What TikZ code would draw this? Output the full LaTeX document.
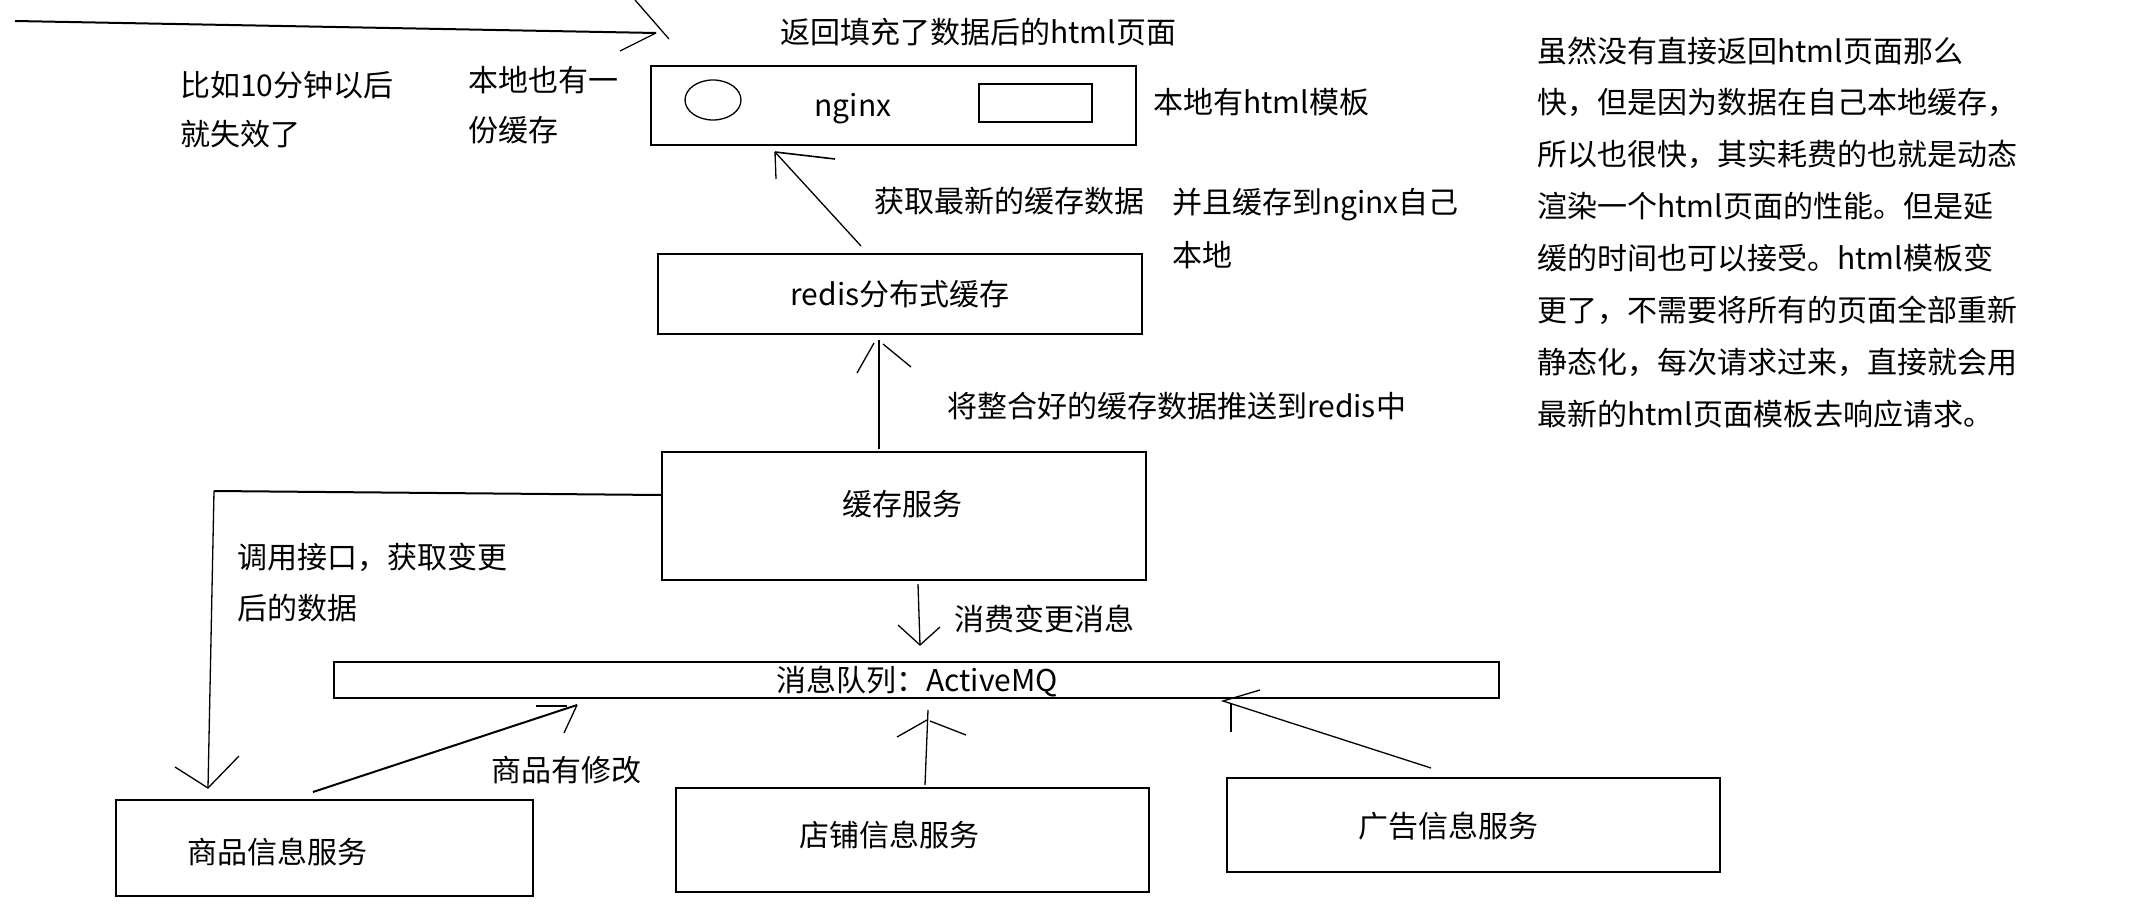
\documentclass[tikz,border=0pt]{standalone}
\usepackage{fontspec}
\newfontfamily\cjk{Noto Sans CJK SC}
\usetikzlibrary{shapes.geometric}
\begin{document}
\begin{tikzpicture}[x=1pt,y=-1pt,
  box/.style={draw, line width=2pt, inner sep=0pt},
  txt/.style={font=\cjk\fontsize{30}{36}\selectfont, inner sep=0pt, text height=24pt, text depth=3pt},
  ltxt/.style={txt, anchor=west},
  thinline/.style={line width=1.3pt},
  strongline/.style={line width=2pt}]
\fill[white] (0,0) rectangle (2152,912);
\useasboundingbox (0,0) rectangle (2152,912);

% boxes
\node[box, minimum width=485pt, minimum height=79pt] (nginx) at (893.5,105.5) {};
\node[box, minimum width=113pt, minimum height=38pt] (tpl) at (1035.5,103) {};
\node[draw, ellipse, thinline, inner sep=0pt, minimum width=56pt, minimum height=40pt] (circ) at (713,100) {};
\node[box, minimum width=484pt, minimum height=80pt] (redis) at (900,294) {};
\node[box, minimum width=484pt, minimum height=128pt] (cache) at (904,516) {};
\node[box, minimum width=1165pt, minimum height=36pt] (mq) at (916.5,680) {};
\node[box, minimum width=417pt, minimum height=96pt] (goods) at (324.5,848) {};
\node[box, minimum width=473pt, minimum height=104pt] (shop) at (912.5,840) {};
\node[box, minimum width=493pt, minimum height=94pt] (ad) at (1473.5,825) {};

% texts in boxes
\node[txt] (ngt) at (853,106) {nginx};
\node[txt] (rdt) at (900,295) {redis分布式缓存};
\node[txt] (cst) at (902,505) {缓存服务};
\node[txt] (mqt) at (917,681) {消息队列：ActiveMQ};
\node[txt] (gdt) at (277,853) {商品信息服务};
\node[txt] (spt) at (889,836) {店铺信息服务};
\node[txt] (adt) at (1448,827) {广告信息服务};

% free labels
\node[ltxt] (l1) at (780,33) {返回填充了数据后的html页面};
\node[ltxt] (l2) at (180,86) {比如10分钟以后};
\node[ltxt] (l3) at (180,135) {就失效了};
\node[ltxt] (l4) at (468,81) {本地也有一};
\node[ltxt] (l5) at (468,131) {份缓存};
\node[ltxt] (l6) at (1153,103) {本地有html模板};
\node[ltxt] (l7) at (874,202) {获取最新的缓存数据};
\node[ltxt] (l8) at (1172,203) {并且缓存到nginx自己};
\node[ltxt] (l9) at (1172,256) {本地};
\node[ltxt] (l10) at (947,407) {将整合好的缓存数据推送到redis中};
\node[ltxt] (l11) at (237,558) {调用接口，获取变更};
\node[ltxt] (l12) at (237,609) {后的数据};
\node[ltxt] (l13) at (954,620) {消费变更消息};
\node[ltxt] (l14) at (491,771) {商品有修改};

% paragraph
\node[ltxt] (p1) at (1537,52) {虽然没有直接返回html页面那么};
\node[ltxt] (p2) at (1537,103) {快，但是因为数据在自己本地缓存，};
\node[ltxt] (p3) at (1537,155) {所以也很快，其实耗费的也就是动态};
\node[ltxt] (p4) at (1537,207) {渲染一个html页面的性能。但是延};
\node[ltxt] (p5) at (1537,259) {缓的时间也可以接受。html模板变};
\node[ltxt] (p6) at (1537,311) {更了，不需要将所有的页面全部重新};
\node[ltxt] (p7) at (1537,363) {静态化，每次请求过来，直接就会用};
\node[ltxt] (p8) at (1537,415) {最新的html页面模板去响应请求。};

% top-left arrow (response)
\coordinate (a0) at (15,21);
\coordinate (at) at (656,33);
\coordinate (al) at (620,51);
\coordinate (au) at (635,0);
\coordinate (ae) at (669,39);
\draw[strongline] (a0) -- (at);
\draw[thinline] (al) -- (at);
\draw[thinline] (au) -- (ae);

% redis -> nginx
\coordinate (b0) at (861,246);
\coordinate (bt) at (775,152);
\coordinate (bv) at (776,179);
\coordinate (bh) at (835,159);
\draw[thinline] (b0) -- (bt);
\draw[thinline] (bt) -- (bv);
\draw[line width=1.6pt] (bt) -- (bh);

% cache -> redis
\coordinate (c0) at (879,449);
\coordinate (ct) at (879,340);
\coordinate (cl0) at (874,343);
\coordinate (cl1) at (857,373);
\coordinate (cr0) at (883,344);
\coordinate (cr1) at (911,367);
\draw[thinline] (c0) -- (ct);
\draw[thinline] (cl0) -- (cl1);
\draw[thinline] (cr0) -- (cr1);

% cache -> goods (call interface)
\coordinate (d0) at (661,495);
\coordinate (d1) at (214,491);
\coordinate (dt) at (208,788);
\coordinate (dl) at (175,767);
\coordinate (dr) at (239,756);
\draw[strongline] (d0) -- (d1);
\draw[thinline] (d1) -- (dt);
\draw[thinline] (dl) -- (dt) -- (dr);

% cache -> mq
\coordinate (e0) at (918,584);
\coordinate (et) at (920,645);
\coordinate (el) at (898,625);
\coordinate (er) at (940,627);
\draw[thinline] (e0) -- (et);
\draw[thinline] (el) -- (et) -- (er);

% goods -> mq
\coordinate (f0) at (313,792);
\coordinate (ft) at (577,705);
\coordinate (fh0) at (536,706);
\coordinate (fh1) at (567,706);
\coordinate (fv) at (564,733);
\draw[strongline] (f0) -- (ft);
\draw[strongline] (fh0) -- (fh1);
\draw[thinline] (ft) -- (fv);

% shop -> mq
\coordinate (g0) at (925,785);
\coordinate (gt) at (928,710);
\coordinate (gl0) at (927,720);
\coordinate (gl1) at (897,737);
\coordinate (gr0) at (930,721);
\coordinate (gr1) at (966,735);
\draw[thinline] (g0) -- (gt);
\draw[thinline] (gl0) -- (gl1);
\draw[thinline] (gr0) -- (gr1);

% ad -> mq
\coordinate (h0) at (1431,768);
\coordinate (ht) at (1223,701);
\coordinate (ha) at (1260,690);
\coordinate (hv0) at (1231,703);
\coordinate (hv1) at (1231,732);
\draw[thinline] (h0) -- (ht) -- (ha);
\draw[thinline] (hv0) -- (hv1);
\end{tikzpicture}
\end{document}
